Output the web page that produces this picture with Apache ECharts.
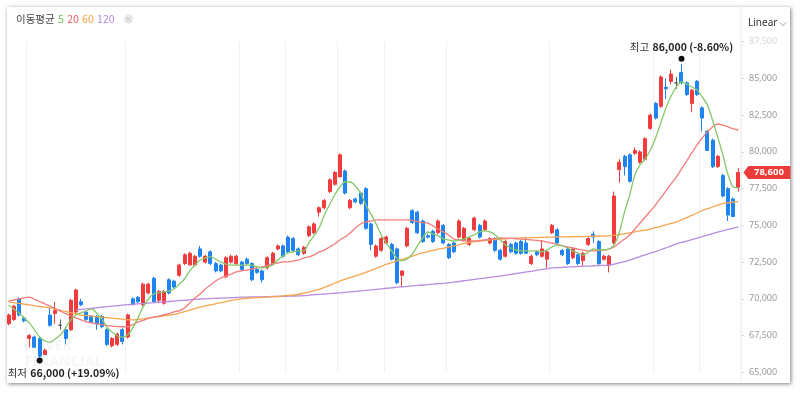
<!DOCTYPE html>
<html><head><meta charset="utf-8">
<script src="https://cdn.jsdelivr.net/npm/echarts@6/dist/echarts.min.js"></script>
<style>
html,body{margin:0;padding:0;background:#fff;width:800px;height:394px;overflow:hidden;}
#card{position:absolute;left:7px;top:7px;width:783px;height:376px;background:#fff;box-shadow:1px 1px 4px rgba(0,0,0,0.5);}
#chart{position:absolute;left:0;top:0;width:800px;height:394px;}
</style></head>
<body>
<div id="card"></div>
<div id="chart"></div>
<script>
// ---- data ----
const openArr = [68300,68600,70000,68700,67300,67400,67300,66200,68900,69000,
68200,67900,67900,69100,69800,69100,68800,68800,68800,67900,
66800,66900,67900,67400,70000,70100,69600,70400,71400,69900,
69700,71300,71200,71600,72400,72300,72300,73400,72500,73200,
72400,72300,71500,72500,72400,72500,72700,72400,72000,71900,
72100,72400,73400,73600,74200,74100,73400,73100,74300,74500,
75900,76200,77300,77800,78300,78700,76200,76800,77200,77500,
75100,72900,73300,73800,73700,73400,71600,73600,76000,75900,
75300,74300,74600,74500,75000,73700,73800,74200,74000,73700,
74700,75000,74700,73800,74100,73300,72900,73700,73800,73900,
73800,72400,73200,72900,72700,74500,74700,73300,73400,72800,
73000,72600,73700,74400,73900,72700,72300,73800,78800,79700,
79800,79900,79300,79500,81600,83300,83100,84400,84800,84700,
85400,84700,83300,84800,83000,81400,80800,79000,78400,77500,
76800,77600];
const closeArr = [68900,69500,68900,68500,67500,66700,66100,66500,68200,69200,
68200,67300,69900,70600,69600,68600,68400,68300,68100,66900,
67300,67600,67100,68900,69600,69800,71000,71000,69800,70500,
70500,70400,70800,72300,73000,73100,72900,72900,72900,72400,
71900,71900,72800,72900,72900,72000,72400,71300,71800,71300,
72800,73100,73600,72900,73200,73300,73000,73500,74900,75100,
76200,76700,78100,78600,79800,77200,76700,76600,76500,74800,
73700,73600,74100,74200,72700,71100,71900,74800,75200,74500,
73900,74200,73900,75300,73800,72800,73200,75300,74800,74100,
75500,74200,75300,74100,73300,72700,73900,73200,73100,73100,
73100,72900,73000,73400,73200,75000,73800,73000,72400,73400,
72400,73100,74100,74200,72400,72900,72900,77000,79300,79000,
78000,80100,80000,80900,82500,82300,85100,84300,85300,84700,
84700,83900,84200,83900,82300,80100,79000,79700,77000,75700,
75600,78600];
const lowArr = [68200,68500,68800,68400,66700,66700,66000,66200,68100,68300,
67900,66900,67800,68900,69500,68500,68400,67900,68000,66800,
66700,66800,66900,67300,69600,69700,69500,70300,69700,69700,
69600,70300,70700,71500,72300,72300,72200,72800,72400,72300,
71800,71800,71400,72400,72300,71900,72300,71200,71700,71100,
72000,72300,73300,72800,73100,73200,72900,73000,74200,74400,
75600,76100,77200,77700,78300,77100,76100,76500,76400,74700,
73300,72800,73200,73700,72600,71000,70800,73500,75100,74400,
73800,74100,73800,74400,73700,72700,73100,74100,73900,73600,
74600,74100,74600,73700,73200,72600,72800,73100,73000,73000,
73100,72300,72900,72800,72100,74400,73700,72900,72300,72700,
72300,72200,73600,73800,72300,72600,71800,73700,77900,78400,
77900,79800,79200,79400,81500,82200,83000,83600,84600,84300,
84600,83800,82700,83800,81400,80100,78900,78900,76900,75300,
75600,77300];
const highArr = [69000,69600,70100,68800,67600,67500,67400,66600,69400,69800,
68600,68100,70000,70700,70000,69200,68900,68900,68900,68000,
67400,67700,68000,69000,70100,70200,71100,71100,71500,70600,
70600,71400,71300,72400,73100,73200,73000,73600,73000,73300,
72500,72400,72900,73000,73000,72600,72800,72500,72100,72000,
72900,73200,73700,73700,74300,74200,73500,73600,75000,75200,
76300,76800,78200,78700,79900,78800,76800,76900,77300,77600,
75200,73700,74200,74300,73800,73500,71900,74900,76100,76000,
75400,74400,74700,75400,75100,73800,73900,75400,74900,74200,
75600,75100,75400,74200,74200,73400,74000,73800,73900,74000,
74200,73000,73300,74000,73300,75100,74800,73400,73500,73500,
73100,73200,74200,74600,74000,73000,73000,77300,79500,79800,
79900,80300,80100,81000,82600,83400,85200,85000,85600,85100,
86000,84800,84300,84900,83100,81500,80900,79800,78500,77600,
76900,78900];
const ma5 = [69580,69310,69040,68700,68360,67880,67400,67130,67060,67270,
67540,68020,68560,68900,69040,69170,69310,69040,68630,68080,
67740,67470,67400,67540,68020,68700,69450,69990,70330,70400,
70470,70530,70670,71010,71350,71900,72300,72640,72780,72850,
72710,72510,72370,72300,72300,72300,72300,72300,72170,72100,
72170,72300,72640,72920,73120,73190,73260,73260,73800,74280,
74820,75710,76390,77070,77610,77950,77950,77680,77200,76390,
75780,75100,74350,73800,73260,72780,72580,72710,73050,73600,
74140,74550,74410,74280,74070,74010,73940,74010,74070,74210,
74350,74550,74620,74550,74350,74010,73670,73460,73330,73260,
73260,73260,73260,73190,73330,73530,73670,73600,73460,73260,
73120,72980,73190,73390,73330,73330,73390,73670,74550,75910,
77070,78430,79110,79520,80130,80950,81970,82990,83810,84420,
84760,84620,84420,84220,83740,83200,82170,81020,79790,78430,
77610,77550];
const ma20 = [69850,69920,69990,70060,70120,69970,69820,69660,69510,69340,
69160,68990,68850,68710,68570,68430,68370,68300,68240,68180,
68140,68110,68100,68100,68250,68420,68540,68670,68760,68830,
68900,69000,69110,69200,69380,69720,70060,70330,70670,70940,
71210,71420,71550,71690,71830,71900,71960,72030,72100,72170,
72300,72370,72440,72510,72510,72580,72640,72780,72850,72990,
73190,73320,73530,73730,74010,74210,74480,74820,75090,75230,
75300,75370,75370,75370,75370,75370,75370,75370,75330,75260,
75190,75160,74960,74750,74550,74350,74070,74010,73940,73940,
73940,73970,74010,74040,74110,74140,74130,74110,74090,74070,
74040,74010,73970,73940,73870,73800,73700,73600,73530,73460,
73390,73320,73260,73260,73290,73320,73390,73530,73800,74070,
74350,74750,75160,75570,75980,76390,76870,77340,77820,78290,
78840,79380,79930,80470,80950,81360,81700,81900,81830,81700,
81560,81490];
const ma60 = [69790,69740,69690,69640,69590,69540,69480,69430,69380,69300,
69220,69140,69060,68980,68890,68860,68830,68790,68760,68720,
68690,68650,68620,68580,68570,68600,68640,68690,68740,68790,
68840,68890,68940,69030,69130,69230,69340,69440,69520,69590,
69660,69740,69810,69890,69950,70000,70040,70060,70080,70100,
70120,70150,70170,70200,70220,70260,70310,70380,70460,70560,
70640,70780,70920,71060,71210,71330,71440,71560,71680,71800,
71930,72070,72210,72360,72470,72580,72680,72790,72900,73020,
73120,73210,73300,73380,73440,73520,73600,73680,73780,73830,
73880,73930,73970,74000,74030,74060,74080,74110,74130,74140,
74150,74160,74170,74180,74190,74200,74210,74220,74220,74230,
74230,74240,74250,74260,74260,74270,74280,74320,74370,74430,
74490,74560,74620,74680,74760,74840,74930,75030,75130,75230,
75380,75530,75680,75840,76000,76130,76250,76370,76490,76540,
76590,76620];
const ma120 = [null,null,null,null,null,null,null,null,null,null,null,null,null,
69240,69280,69320,69350,69390,69430,69470,69500,69540,69570,
69600,69630,69660,69680,69710,69740,69770,69790,69820,69850,
69880,69900,69930,69960,69990,70000,70020,70030,70050,70060,
70080,70090,70110,70120,70130,70140,70140,70150,70160,70160,
70170,70180,70190,70200,70220,70250,70280,70300,70330,70350,
70380,70400,70440,70470,70510,70540,70580,70610,70650,70680,
70720,70750,70790,70820,70850,70880,70910,70940,70970,71000,
71030,71050,71080,71130,71180,71230,71270,71320,71370,71410,
71460,71510,71550,71610,71660,71720,71770,71830,71880,71940,
71990,72050,72100,72120,72140,72160,72180,72200,72220,72230,
72250,72270,72280,72300,72360,72440,72540,72640,72760,72880,
72990,73110,73220,73340,73470,73600,73740,73840,73930,74030,
74130,74230,74340,74440,74540,74630,74720,74810,74900];
const categories = openArr.map((_, i) => 'D' + (i + 1));
const monthBreaks = [4, 23, 45, 54, 64, 73, 85, 105, 125, 134];
const yTicks = {min: 65000, max: 87500, step: 2500};
const maPeriods = ['5', '20', '60', '120'];

// ---- styles ----
const UP = '#f03c3c', DOWN = '#1f84f0', DOJI = '#555';
const C5 = '#84c96a', C20 = '#f27b7b', C60 = '#f8a550', C120 = '#b98ce0';
const fmt = v => String(v).replace(/\B(?=(\d{3})+(?!\d))/g, ',');

const candleData = categories.map((c, i) => {
  const v = [openArr[i], closeArr[i], lowArr[i], highArr[i]];
  if (openArr[i] === closeArr[i]) {
    return {value: v, itemStyle: {color: DOJI, color0: DOJI, borderColor: DOJI, borderColor0: DOJI}};
  }
  return v;
});

let iMax = 0, iMin = 0;
highArr.forEach((v, i) => { if (v > highArr[iMax]) iMax = i; });
lowArr.forEach((v, i) => { if (v < lowArr[iMin]) iMin = i; });
const last = closeArr.length - 1;
const lastClose = closeArr[last];
const pctHi = ((lastClose - highArr[iMax]) / highArr[iMax] * 100).toFixed(2);
const pctLo = ((lastClose - lowArr[iMin]) / lowArr[iMin] * 100).toFixed(2);
const sgn = s => (Number(s) > 0 ? '+' : '') + s;

const FONT = '"Noto Sans CJK KR", "Noto Sans", sans-serif';
const annRich = {
  k: {fontFamily: FONT, fontSize: 10.5, color: '#333'},
  v: {fontFamily: FONT, fontSize: 10.5, color: '#222', fontWeight: 'bold'}
};

const chart = echarts.init(document.getElementById('chart'), null, {renderer: 'canvas'});
const maLine = (name, data, color) => ({
  name, type: 'line', data, showSymbol: false, smooth: 0.3,
  lineStyle: {width: 1.3, color}, itemStyle: {color}, z: 3, silent: true
});

chart.setOption({
  animation: false,
  grid: {left: 6, right: 59, top: 41.7, bottom: 21.7},
  xAxis: {
    type: 'category', data: categories, boundaryGap: true,
    axisLine: {show: false}, axisTick: {show: false}, axisLabel: {show: false},
    splitLine: {show: true, interval: (idx) => monthBreaks.includes(idx), lineStyle: {color: '#f1f1f1', width: 1}}
  },
  yAxis: {
    type: 'value', position: 'right', min: yTicks.min, max: yTicks.max, interval: yTicks.step,
    axisLine: {show: false},
    axisTick: {show: true, length: 3, lineStyle: {color: '#dddddd'}},
    splitLine: {show: false},
    axisLabel: {
      margin: 8, fontSize: 9, fontFamily: '"Noto Sans", sans-serif',
      color: (v) => (Number(v) === yTicks.max ? '#d6d6d6' : '#9a9a9a'),
      formatter: (v) => fmt(v)
    }
  },
  graphic: [
    {type: 'line', shape: {x1: 741, y1: 7, x2: 741, y2: 383}, style: {stroke: '#ececec', lineWidth: 1}, z: 0},
    {type: 'text', x: 16, y: 19, style: {
      text: '{a|이동평균} {g|' + maPeriods[0] + '} {r|' + maPeriods[1] + '} {o|' + maPeriods[2] + '} {p|' + maPeriods[3] + '}',
      verticalAlign: 'middle',
      rich: {
        a: {fontFamily: FONT, fontSize: 10.5, fill: '#444'},
        g: {fontFamily: FONT, fontSize: 10.5, fill: '#6cc04f'},
        r: {fontFamily: FONT, fontSize: 10.5, fill: '#f25c5c'},
        o: {fontFamily: FONT, fontSize: 10.5, fill: '#f5a13b'},
        p: {fontFamily: FONT, fontSize: 10.5, fill: '#b38be3'}
      }
    }},
    {type: 'circle', shape: {cx: 128.5, cy: 19, r: 5}, style: {fill: '#ececec'}},
    {type: 'text', x: 128.5, y: 19, style: {text: '×', fontSize: 8, fill: '#b5b5b5', align: 'center', verticalAlign: 'middle', fontFamily: FONT}},
    {type: 'text', x: 748, y: 23.5, style: {text: 'Linear', fontSize: 10, fill: '#333', verticalAlign: 'middle', fontFamily: '"Noto Sans", sans-serif'}},
    {type: 'polyline', shape: {points: [[780, 22.5], [783, 25.5], [786, 22.5]]}, style: {stroke: '#999', lineWidth: 1, fill: 'none'}},
    {type: 'text', x: 25, y: 338, style: {text: 'NAVER\nFINANCIAL', fontSize: 14, fontWeight: 'bold', fill: '#f5f6f8', lineHeight: 16, fontFamily: '"Noto Sans", sans-serif'}, z: 0}
  ],
  series: [
    {
      name: 'price', type: 'candlestick', data: candleData, barWidth: 3.5, z: 2,
      itemStyle: {color: UP, color0: DOWN, borderColor: UP, borderColor0: DOWN, borderWidth: 1},
      markPoint: {
        silent: true,
        data: [
          {coord: [iMax, highArr[iMax]], symbol: 'circle', symbolSize: 6, symbolOffset: [0, -5],
            itemStyle: {color: '#111'},
            label: {show: true, position: 'top', distance: 3,
              formatter: '{k|최고} {v|' + fmt(highArr[iMax]) + ' (' + sgn(pctHi) + '%)}', rich: annRich}},
          {coord: [iMin, lowArr[iMin]], symbol: 'circle', symbolSize: 6, symbolOffset: [0, 3],
            itemStyle: {color: '#111'},
            label: {show: true, position: [-29, 9], align: 'left', verticalAlign: 'top',
              formatter: '{k|최저} {v|' + fmt(lowArr[iMin]) + ' (' + sgn(pctLo) + '%)}', rich: annRich}},
          {coord: [last, lastClose], symbol: 'path://M0,6L5,0H47V12H5Z', symbolSize: [47, 13], symbolOffset: [28.5, 0],
            symbolKeepAspect: false, itemStyle: {color: '#eb3b3b'},
            label: {show: true, position: 'inside', offset: [2, 0], formatter: fmt(lastClose),
              color: '#fff', fontSize: 9.5, fontWeight: 'bold', fontFamily: '"Noto Sans", sans-serif'}}
        ]
      }
    },
    maLine('MA120', ma120, C120),
    maLine('MA60', ma60, C60),
    maLine('MA20', ma20, C20),
    maLine('MA5', ma5, C5)
  ]
});
</script>
</body></html>
